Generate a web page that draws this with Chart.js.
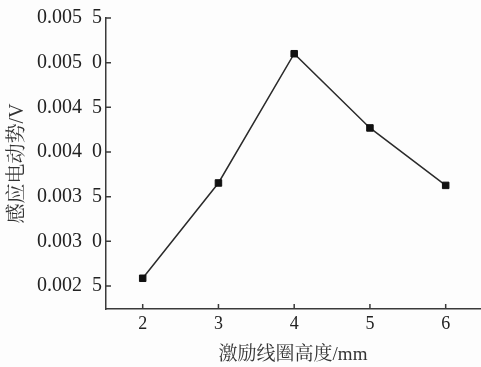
<!DOCTYPE html>
<html>
<head>
<meta charset="utf-8">
<script src="https://cdn.jsdelivr.net/npm/chart.js@4/dist/chart.umd.min.js"></script>
<style>
html,body{margin:0;padding:0;background:#fdfdfd;}
#wrap{width:481px;height:367px;}
</style>
</head>
<body>
<div id="wrap"><canvas id="c" width="481" height="367"></canvas></div>
<script>
const heights = [2, 3, 4, 5, 6];
const emf = [0.002586, 0.003653, 0.005100, 0.004269, 0.003626];
const xTicks = [2, 3, 4, 5, 6];
const yTicks = [0.0025, 0.0030, 0.0035, 0.0040, 0.0045, 0.0050, 0.0055];
const yTickLabels = ['0.002  5', '0.003  0', '0.003  5', '0.004  0', '0.004  5', '0.005  0', '0.005  5'];
const xTitle = '激励线圈高度/mm';
const yTitle = '感应电动势/V';

const serif = '"Liberation Serif", "Times New Roman", "Noto Serif CJK SC", "Noto Sans CJK SC", serif';
const axisColor = '#3a3a3a';
const AREA_RIGHT = 480;

const stretchRight = {
  id: 'stretchRight',
  afterLayout(chart) {
    const x = chart.scales.x;
    chart.chartArea.right = AREA_RIGHT;
    chart.chartArea.width = AREA_RIGHT - chart.chartArea.left;
    x.right = AREA_RIGHT;
    x.width = AREA_RIGHT - x.left;
    x.configure();
  }
};

const inwardTicks = {
  id: 'inwardTicks',
  afterDraw(chart) {
    const ctx = chart.ctx;
    const xs = chart.scales.x, ys = chart.scales.y;
    ctx.save();
    ctx.strokeStyle = axisColor;
    ctx.lineWidth = 1.5;
    ctx.beginPath();
    xs.ticks.forEach(t => {
      const px = xs.getPixelForValue(t.value);
      ctx.moveTo(px, ys.bottom);
      ctx.lineTo(px, ys.bottom - 5);
    });
    ys.ticks.forEach(t => {
      const py = ys.getPixelForValue(t.value);
      ctx.moveTo(xs.left, py);
      ctx.lineTo(xs.left + 5, py);
    });
    ctx.stroke();
    ctx.restore();
  }
};

new Chart(document.getElementById('c'), {
  type: 'line',
  data: {
    datasets: [{
      data: heights.map((h, i) => ({x: h, y: emf[i]})),
      borderColor: '#2a2a2a',
      borderWidth: 1.5,
      pointStyle: 'rect',
      pointRadius: 4.6,
      pointBackgroundColor: '#111',
      pointBorderColor: '#111',
      pointBorderWidth: 1,
      tension: 0
    }]
  },
  options: {
    responsive: false,
    animation: false,
    devicePixelRatio: 1,
    layout: {padding: {top: 18, right: 1, left: 0, bottom: 0}},
    plugins: {legend: {display: false}, tooltip: {enabled: false}},
    scales: {
      x: {
        type: 'linear',
        min: 1.5155,
        max: 6.453,
        afterBuildTicks(s) { s.ticks = xTicks.map(v => ({value: v})); },
        afterFit(s) { s.height = 58; },
        ticks: {
          color: '#222',
          font: {family: serif, size: 18},
          padding: 4,
          autoSkip: false,
          maxRotation: 0,
          callback: v => String(v)
        },
        grid: {display: false, drawTicks: false},
        border: {display: true, color: axisColor, width: 1.5},
        title: {
          display: true,
          text: xTitle,
          color: '#333',
          font: {family: serif, size: 19},
          padding: {top: 0, bottom: 1}
        }
      },
      y: {
        type: 'linear',
        min: 0.002242,
        max: 0.0055,
        afterBuildTicks(s) { s.ticks = yTicks.map(v => ({value: v})); },
        afterFit(s) { s.width = 106; },
        ticks: {
          color: '#222',
          font: {family: serif, size: 20},
          padding: 4,
          autoSkip: false,
          callback: (v) => {
            const i = yTicks.findIndex(t => Math.abs(t - v) < 1e-9);
            return i >= 0 ? yTickLabels[i] : '';
          }
        },
        grid: {display: false, drawTicks: false},
        border: {display: true, color: axisColor, width: 1.5},
        title: {
          display: true,
          text: yTitle,
          color: '#333',
          font: {family: serif, size: 20},
          padding: {top: 6, bottom: 0}
        }
      }
    }
  },
  plugins: [stretchRight, inwardTicks]
});
</script>
</body>
</html>
